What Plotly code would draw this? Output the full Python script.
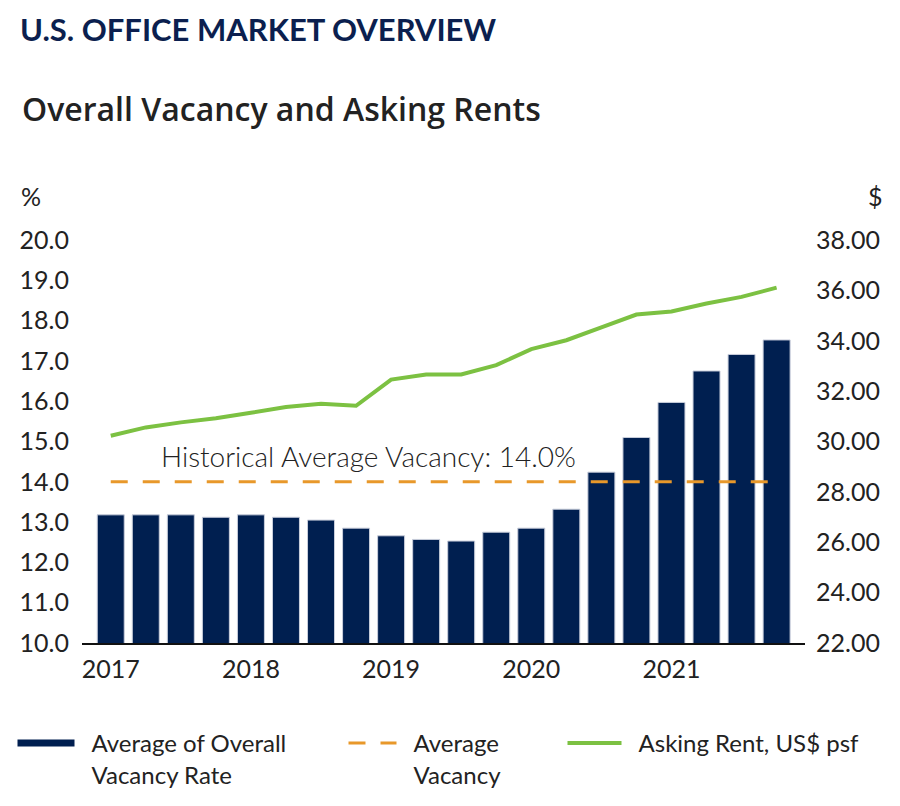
import plotly.graph_objects as go

# quarters 2017 Q1 .. 2021 Q4
quarters = [f"{y} Q{q}" for y in range(2017, 2022) for q in range(1, 5)]
year_ticks = ["2017 Q1", "2018 Q1", "2019 Q1", "2020 Q1", "2021 Q1"]
year_labels = ["2017", "2018", "2019", "2020", "2021"]

# overall vacancy rate, %
vacancy = [13.18, 13.18, 13.18, 13.12, 13.18, 13.12, 13.05, 12.85, 12.66, 12.57,
           12.53, 12.75, 12.85, 13.32, 14.24, 15.10, 15.97, 16.75, 17.16, 17.52]
# historical average vacancy, %
avg_vacancy = [14.0, 14.0, 14.0, 14.0, 14.0, 14.0, 14.0, 14.0, 14.0, 14.0,
               14.0, 14.0, 14.0, 14.0, 14.0, 14.0, 14.0, 14.0, 14.0, 14.0]
# asking rent, US$ psf
rent = [30.23, 30.56, 30.76, 30.92, 31.14, 31.37, 31.50, 31.42, 32.46, 32.66,
        32.66, 33.03, 33.67, 34.02, 34.53, 35.04, 35.16, 35.48, 35.74, 36.11]

NAVY = "#001f50"
ORANGE = "#e8982a"
GREEN = "#7cc142"
TXT = "#222222"
FONT = "Lato"

# page body adds an 8px margin, so the figure is 8px smaller
W, H = 892, 798
L, R, T, B = 74, 95, 232, 163
PW, PH = W - L - R, H - T - B

SP = "\u2002"  # gap between legend key and its text

fig = go.Figure()

fig.add_trace(go.Bar(
    x=quarters, y=vacancy, marker_color=NAVY,
    marker_line=dict(color="#c9cedb", width=1),
    showlegend=False, name="Average of Overall Vacancy Rate",
))
# legend-only entry so the bar key looks like a thick line
fig.add_trace(go.Scatter(
    x=[None], y=[None], mode="lines", line=dict(color=NAVY, width=7),
    name=SP + "Average of Overall<br>" + SP + "Vacancy Rate", legend="legend",
))
fig.add_trace(go.Scatter(
    x=quarters, y=avg_vacancy, mode="lines",
    line=dict(color=ORANGE, width=3, dash="17px,15px"),
    name=SP + "Average<br>" + SP + "Vacancy", legend="legend2",
))
fig.add_trace(go.Scatter(
    x=quarters, y=rent, mode="lines", yaxis="y2",
    line=dict(color=GREEN, width=4),
    name=SP + "Asking Rent, US$ psf", legend="legend3",
))

fig.add_annotation(
    x=7.35, y=14.0, xref="x", yref="y", yanchor="bottom", yshift=7,
    text="Historical Average Vacancy: 14.0%", showarrow=False,
    font=dict(family=FONT, size=28, color=TXT, weight=300),
)

for txt, sx, sy, anchor, size, weight, fam in [
    ("Overall Vacancy and Asking Rents", 20, 108, "left", 32, 600, "Open Sans"),
    ("%", 31, 196, "center", 25, 400, FONT),
    ("$", 875, 196, "center", 25, 400, FONT),
]:
    fx, fy = sx - 8, sy - 8
    fig.add_annotation(
        x=(fx - L) / PW, y=(H - B - fy) / PH, xref="paper", yref="paper",
        xanchor=anchor, yanchor="middle", text=txt, showarrow=False,
        font=dict(family=fam, size=size, color=TXT, weight=weight),
    )


def legend_box(sx, iw):
    return dict(
        orientation="h", xref="container", yref="container",
        x=(sx - 8 - 5.5) / W, y=1 - (721 - 8) / H,
        xanchor="left", yanchor="top", valign="top",
        itemwidth=iw, font=dict(family=FONT, size=24, color=TXT),
        bgcolor="rgba(0,0,0,0)",
    )


fig.update_layout(
    width=W, height=H,
    margin=dict(l=L, r=R, t=T, b=B),
    paper_bgcolor="white", plot_bgcolor="white",
    font=dict(family=FONT, size=25, color=TXT),
    bargap=0.23,
    title=dict(
        text="<b>U.S. OFFICE MARKET OVERVIEW</b>",
        font=dict(family=FONT, size=31, color="#0b1f4f"),
        xref="container", yref="container",
        x=12 / W, xanchor="left", y=1 - 22 / H, yanchor="middle",
    ),
    xaxis=dict(
        type="category", range=[-0.82, 19.81],
        tickvals=year_ticks, ticktext=year_labels,
        showgrid=False, showline=True, linecolor="#111111", linewidth=2,
        ticks="", ticklabelstandoff=3, tickfont=dict(size=25, color=TXT),
    ),
    yaxis=dict(
        range=[10, 20], dtick=1, tickformat=".1f",
        showgrid=False, zeroline=False, ticks="", ticklabelstandoff=12,
        tickfont=dict(size=25, color=TXT),
    ),
    yaxis2=dict(
        range=[22, 38], dtick=2, tickformat=".2f",
        overlaying="y", side="right",
        showgrid=False, zeroline=False, ticks="", ticklabelstandoff=10,
        tickfont=dict(size=25, color=TXT),
    ),
    legend=legend_box(18, 57),
    legend2=legend_box(349, 48),
    legend3=legend_box(568, 54),
)

fig.write_html("out.html")
